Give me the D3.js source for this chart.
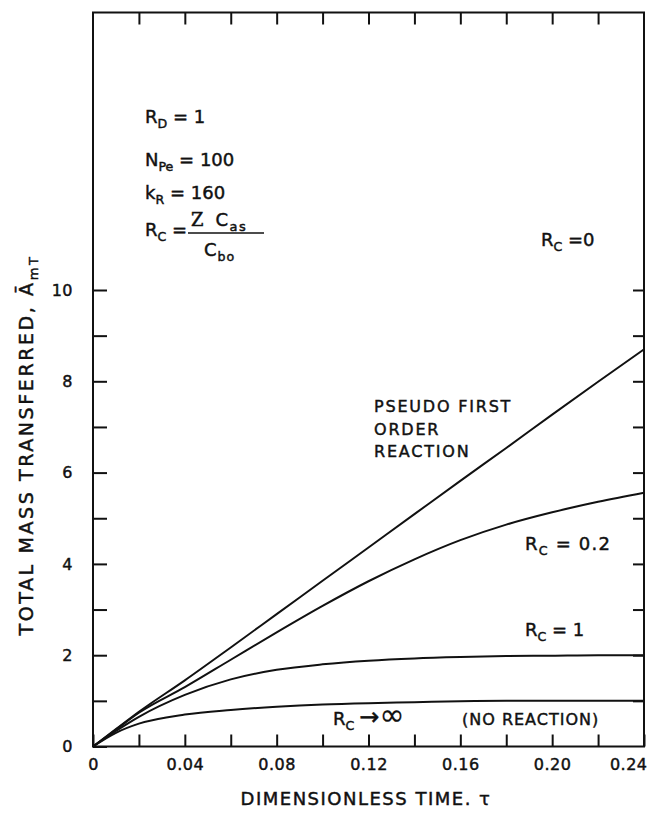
<!DOCTYPE html>
<html>
<head>
<meta charset="utf-8">
<script src="https://cdn.jsdelivr.net/npm/d3@7"></script>
<style>
  body { margin: 0; background: #fff; }
  text { font-family: "DejaVu Sans", sans-serif; fill: #111; stroke: #111; stroke-width: 0.45px; }
  .tick line { stroke: #111; stroke-width: 2; }
  .tick text { font-size: 16px; letter-spacing: 0.5px; }
</style>
</head>
<body>
<div class="chart-container"></div>
<script>
// Dimensionless time (x) and total mass transferred (y) for each R_C curve
var tau      = [0, 0.01, 0.02, 0.04, 0.06, 0.08, 0.10, 0.12, 0.14, 0.16, 0.18, 0.20, 0.22, 0.24];
var rcZero   = [0, 0.38, 0.76, 1.45, 2.17, 2.90, 3.63, 4.36, 5.09, 5.82, 6.54, 7.27, 7.99, 8.70];
var rcPoint2 = [0, 0.37, 0.74, 1.30, 1.90, 2.50, 3.08, 3.62, 4.10, 4.52, 4.86, 5.13, 5.36, 5.56];
var rcOne    = [0, 0.34, 0.65, 1.13, 1.47, 1.68, 1.80, 1.88, 1.93, 1.96, 1.98, 1.99, 2.00, 2.00];
var rcInf    = [0, 0.30, 0.50, 0.70, 0.80, 0.87, 0.92, 0.95, 0.97, 0.99, 1.00, 1.00, 1.00, 1.00];

// Ticks and labels
var xTicks  = [0, 0.02, 0.04, 0.06, 0.08, 0.10, 0.12, 0.14, 0.16, 0.18, 0.20, 0.22, 0.24];
var xLabels = ["0", "0.04", "0.08", "0.12", "0.16", "0.20", "0.24"];
var yTicks  = [0, 1, 2, 3, 4, 5, 6, 7, 8, 9, 10];
var yLabels = ["0", "2", "4", "6", "8", "10"];

var W = 649, H = 825;
var plotLeft = 93, plotRight = 644, plotTop = 12.5, plotBottom = 746.5;

var x = d3.scaleLinear().domain([0, 0.24]).range([plotLeft, plotRight]);
var y = d3.scaleLinear().domain([0, 10]).range([plotBottom, 290]);

var svg = d3.select(".chart-container").append("svg")
    .attr("width", W)
    .attr("height", H);

// Axes (ticks point inward)
svg.append("g")
    .attr("transform", "translate(0," + plotBottom + ")")
    .call(d3.axisBottom(x).tickValues(xTicks).tickSize(-12).tickPadding(12)
        .tickFormat(function(d, i) { return i % 2 ? "" : xLabels[i / 2]; }));

svg.append("g")
    .attr("transform", "translate(0," + plotTop + ")")
    .call(d3.axisTop(x).tickValues(xTicks.slice(1, -1)).tickSize(-12).tickFormat(""));

svg.append("g")
    .attr("transform", "translate(" + plotLeft + ",0)")
    .call(d3.axisLeft(y).tickValues(yTicks).tickSize(-14).tickPadding(20)
        .tickFormat(function(d, i) { return i % 2 ? "" : yLabels[i / 2]; }));

svg.append("g")
    .attr("transform", "translate(" + plotRight + ",0)")
    .call(d3.axisRight(y).tickValues(yTicks.slice(1)).tickSize(-11).tickFormat(""));

svg.selectAll(".domain").remove();

// last x label sits against the frame
svg.selectAll(".tick text").filter(function(d) { return d === 0.24; })
    .attr("text-anchor", "end").attr("x", 3);

// Frame
svg.append("rect")
    .attr("x", plotLeft).attr("y", plotTop)
    .attr("width", plotRight - plotLeft).attr("height", plotBottom - plotTop)
    .attr("fill", "none").attr("stroke", "#111").attr("stroke-width", 2);

// Curves
var line = d3.line()
    .x(function(d, i) { return x(tau[i]); })
    .y(function(d) { return y(d); })
    .curve(d3.curveMonotoneX);

[rcZero, rcPoint2, rcOne, rcInf].forEach(function(s) {
    svg.append("path")
        .attr("d", line(s))
        .attr("fill", "none")
        .attr("stroke", "#111")
        .attr("stroke-width", 2);
});

// text with subscripts: parts = [[text, isSub], ...]
function label(px, py, size, parts) {
    var t = svg.append("text").attr("x", px).attr("y", py).style("font-size", size + "px");
    var shifted = false;
    parts.forEach(function(p) {
        var ts = t.append("tspan").text(p[0]);
        if (p[1] && !shifted) { ts.attr("dy", size * 0.3).style("font-size", (size * 0.7) + "px"); shifted = true; }
        else if (p[1]) { ts.style("font-size", (size * 0.7) + "px"); }
        else if (shifted) { ts.attr("dy", -size * 0.3); shifted = false; }
    });
    return t;
}

// Parameter block
label(145, 123, 18, [["R", 0], ["D", 1], [" = 1", 0]]);
label(145, 166, 18, [["N", 0], ["Pe", 1], [" = 100", 0]]);
label(145, 199, 18, [["k", 0], ["R", 1], [" = 160", 0]]);
label(145, 236, 18, [["R", 0], ["C", 1], [" =", 0]]);
var num = svg.append("text").attr("x", 191).attr("y", 226).style("font-size", "18px")
    .style("font-family", "'DejaVu Serif', serif").text("Z");
num.append("tspan").attr("dx", 12).style("font-family", "'DejaVu Sans', sans-serif")
    .style("letter-spacing", "1.5px").text("C");
num.append("tspan").attr("dy", 5).style("font-size", "13px")
    .style("font-family", "'DejaVu Sans', sans-serif").style("letter-spacing", "1.5px").text("as");
svg.append("line").attr("x1", 188).attr("x2", 264).attr("y1", 233).attr("y2", 233)
    .attr("stroke", "#111").attr("stroke-width", 1.6);
label(204, 256, 18, [["C", 0], ["bo", 1]]).style("letter-spacing", "1px");

// Curve labels
label(541, 246, 18, [["R", 0], ["C", 1], [" =0", 0]]);
label(525, 550, 18, [["R", 0], ["C", 1], [" = 0.2", 0]]).style("letter-spacing", "1.2px");
label(525, 636, 18, [["R", 0], ["C", 1], [" = 1", 0]]);
var inf = label(333, 725, 18, [["R", 0], ["C", 1]]);
inf.append("tspan").attr("dy", -5.4).attr("dx", 5).style("font-size", "24px").text("\u2192");
inf.append("tspan").style("font-size", "30px").style("stroke-width", "0.2px").text("\u221E");
svg.append("text").attr("x", 462).attr("y", 725).style("font-size", "16px")
    .style("letter-spacing", "1px").text("(NO REACTION)");

["PSEUDO FIRST", "ORDER", "REACTION"].forEach(function(s, i) {
    svg.append("text").attr("x", 374).attr("y", 412 + i * 22.5)
        .style("font-size", "16px").style("letter-spacing", "1.8px").text(s);
});

// Axis titles
var yt = svg.append("text")
    .attr("transform", "translate(33,445) rotate(-90)")
    .attr("text-anchor", "middle")
    .style("font-size", "19px").style("letter-spacing", "2.6px");
yt.append("tspan").text("TOTAL MASS TRANSFERRED, \u0100");
yt.append("tspan").attr("dy", 5).style("font-size", "13px").text("mT");

svg.append("text")
    .attr("x", 366).attr("y", 805)
    .attr("text-anchor", "middle")
    .style("font-size", "18px").style("letter-spacing", "1.5px")
    .text("DIMENSIONLESS TIME. \u03C4");
</script>
</body>
</html>
